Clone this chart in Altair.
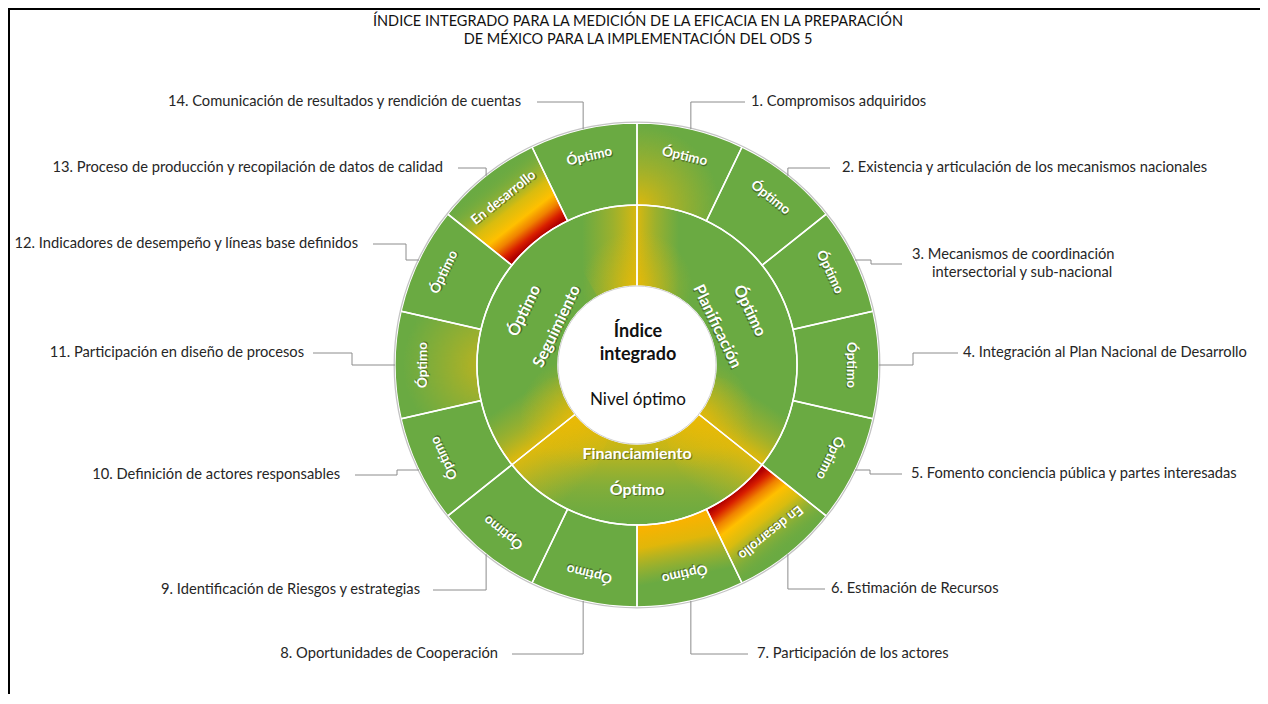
import math
import numpy as np
import pandas as pd
import altair as alt

# ---------------- data ----------------
title_lines = [
    "ÍNDICE INTEGRADO PARA LA MEDICIÓN DE LA EFICACIA EN LA PREPARACIÓN",
    "DE MÉXICO PARA LA IMPLEMENTACIÓN DEL ODS 5",
]
indicators = [
    "1. Compromisos adquiridos",
    "2. Existencia y articulación de los mecanismos nacionales",
    "3.  Mecanismos de coordinación\nintersectorial y sub-nacional",
    "4. Integración al Plan Nacional de Desarrollo",
    "5. Fomento conciencia pública y partes interesadas",
    "6. Estimación de Recursos",
    "7. Participación de los actores",
    "8. Oportunidades de Cooperación",
    "9. Identificación de Riesgos y estrategias",
    "10. Definición de actores responsables",
    "11. Participación en diseño de procesos",
    "12. Indicadores de desempeño y líneas base definidos",
    "13. Proceso de producción y recopilación de datos de calidad",
    "14. Comunicación de resultados y rendición de cuentas",
]
indicator_status = [
    "Óptimo", "Óptimo", "Óptimo", "Óptimo", "Óptimo", "En desarrollo", "Óptimo",
    "Óptimo", "Óptimo", "Óptimo", "Óptimo", "Óptimo", "En desarrollo", "Óptimo",
]
pillars = ["Planificación", "Financiamiento", "Seguimiento"]
pillar_size = [5, 4, 5]
pillar_status = ["Óptimo", "Óptimo", "Óptimo"]
center_lines = ["Índice", "integrado", "Nivel óptimo"]

# ---------------- layout (page pixels) ----------------
label_y = [102, 168, 264, 353, 474, 589, 654, 654, 590, 475, 353, 244, 168, 102]
label_elbow_x = [None, None, 871, 913, 870, None, None, None, None, 397, 352, 406, None, None]
label_line_end_x = [745, 830, 902, 958, 902, 825, 748, 512, 433, 355, 313, 373, 458, 537]
label_text_x = [751, 842, 912, 963, 911, 831, 757, 498, 420, 340, 304, 358, 443, 521]
label_indent = [0, 0, 20, 0, 0, 0, 0, 0, 0, 0, 0, 0, 0, 0]
center_text_y = [332, 355, 400]
title_y = [22, 40]

W, H = 1252, 686
OX, OY = 8, 8
CX, CY = 637, 365
R_IN, R_MID, R_OUT = 79, 160, 242
R_TXT_OUT = 214
R_PNAME, R_PSTAT = 89, 125
FONT = "Lato"
GREEN = "#6AAA42"
STEP = 360.0 / len(indicators)

xs = alt.Scale(domain=[OX - CX, OX + W - CX], nice=False, zero=False)
ys = alt.Scale(domain=[CY - (OY + H), CY - OY], nice=False, zero=False)
ts = alt.Scale(domain=[0, 360], range=[0, 2 * math.pi])


def X(f="x"):
    return alt.X(f + ":Q", scale=xs, axis=None)


def Y(f="y"):
    return alt.Y(f + ":Q", scale=ys, axis=None)


def arcs(df, r0, r1, **mk):
    df = df.copy()
    df["cx"] = 0.0
    df["cy"] = 0.0
    return alt.Chart(df).mark_arc(radius=r1, radius2=r0, **mk).encode(
        x=X("cx"), y=Y("cy"),
        theta=alt.Theta("t0:Q", scale=ts, stack=None),
        theta2="t1:Q",
    )


def sector(t0, t1):
    return pd.DataFrame({"t0": [float(t0)], "t1": [float(t1)]})


# geometry helpers for gradients (screen coords, y down)
def scr(theta, r):
    t = math.radians(theta)
    return r * math.sin(t), -r * math.cos(t)


def sector_bbox(t0, t1, r0, r1):
    tt = np.radians(np.linspace(t0, t1, 400))
    px = np.concatenate([r0 * np.sin(tt), r1 * np.sin(tt)])
    py = np.concatenate([-r0 * np.cos(tt), -r1 * np.cos(tt)])
    return px.min(), px.max(), py.min(), py.max()


def to_bb(p, bb):
    return (p[0] - bb[0]) / (bb[1] - bb[0]), (p[1] - bb[2]) / (bb[3] - bb[2])


def stops(lst):
    return [{"offset": o, "color": c} for o, c in lst]


def radial_fill(t0, t1, r0, r1, ct, cr, rad_px, st):
    bb = sector_bbox(t0, t1, r0, r1)
    cx, cy = to_bb(scr(ct, cr), bb)
    w, h = bb[1] - bb[0], bb[3] - bb[2]
    r = rad_px / math.sqrt(w * h)
    return {"gradient": "radial", "x1": cx, "y1": cy, "r1": 0,
            "x2": cx, "y2": cy, "r2": r, "stops": stops(st)}


def radial_dir_fill(t0, t1, r0, r1, st):
    bb = sector_bbox(t0, t1, r0, r1)
    tm = (t0 + t1) / 2
    p0 = to_bb(scr(tm, r0), bb)
    p1 = to_bb(scr(tm, r1), bb)
    return {"gradient": "linear", "x1": p0[0], "y1": p0[1],
            "x2": p1[0], "y2": p1[1], "stops": stops(st)}


def edge_fill(t0, t1, r0, r1, tb, width_px, st):
    bb = sector_bbox(t0, t1, r0, r1)
    side = 1 if (t0 + t1) / 2 > tb else -1
    p = scr(tb, (r0 + r1) / 2)
    d = (side * math.cos(math.radians(tb)), side * math.sin(math.radians(tb)))
    q = (p[0] + d[0] * width_px, p[1] + d[1] * width_px)
    a, b = to_bb(p, bb), to_bb(q, bb)
    return {"gradient": "linear", "x1": a[0], "y1": a[1], "x2": b[0], "y2": b[1], "stops": stops(st)}


def vertical_fill(st):
    return {"gradient": "linear", "x1": 0.5, "y1": 0, "x2": 0.5, "y2": 1, "stops": stops(st)}


# ---------------- tables ----------------
outer_df = pd.DataFrame({
    "t0": [i * STEP for i in range(len(indicators))],
    "t1": [(i + 1) * STEP for i in range(len(indicators))],
    "status": indicator_status,
})
cum = np.concatenate([[0], np.cumsum(pillar_size)]) * STEP
mid_df = pd.DataFrame({"t0": cum[:-1], "t1": cum[1:], "name": pillars, "status": pillar_status})

layers = []
layers.append(arcs(outer_df, R_MID, R_OUT, fill=GREEN, stroke=None))
layers.append(arcs(mid_df, R_IN, R_MID, fill=GREEN, stroke=None))

# ---- middle-ring shading near the pillar boundaries ----
edge_st = [(0, "rgba(232,186,8,0.88)"), (0.45, "rgba(214,184,20,0.45)"), (1, "rgba(200,182,30,0)")]
SPAN = 30
b1, b2 = cum[1], cum[2]
edge_specs = [
    (360 - SPAN, 360, 360, 55),
    (0, SPAN, 0, 42),
    (b1 - SPAN, b1, b1, 50),
    (b1, b1 + SPAN, b1, 60),
    (b2 - SPAN, b2, b2, 60),
    (b2, b2 + SPAN, b2, 50),
]
for t0, t1, tb, wpx in edge_specs:
    layers.append(arcs(sector(t0, t1), R_IN, R_MID,
                       fill=edge_fill(t0, t1, R_IN, R_MID, tb, wpx, edge_st), stroke=None))
# Financiamiento: yellow toward the centre
layers.append(arcs(sector(b1, b2), R_IN, R_MID,
                   fill=vertical_fill([(0, "rgba(236,186,4,0.9)"), (0.3, "rgba(226,186,10,0.75)"),
                                       (0.65, "rgba(190,182,35,0.3)"), (1, "rgba(150,175,50,0)")]),
                   stroke=None))
# stronger yellow at the inner corners
for b in [0.0, b1, b2]:
    g = radial_fill(0, 360, R_IN, R_MID, b, R_IN, 55,
                    [(0, "rgba(236,186,4,0.6)"), (1, "rgba(220,184,15,0)")])
    layers.append(arcs(sector(0, 360), R_IN, R_MID, fill=g, stroke=None))

# ---- outer-ring shading per indicator ----
red_stops = [(0, "rgba(176,0,0,1)"), (0.08, "rgba(216,30,0,1)"), (0.2, "rgba(240,130,0,1)"),
             (0.32, "rgba(255,192,0,1)"), (0.5, "rgba(228,190,10,0.9)"),
             (0.75, "rgba(165,180,45,0.35)"), (0.95, "rgba(106,170,66,0)")]
special = {
    0: radial_fill(0, STEP, R_MID, R_OUT, 0, R_MID, 80,
                   [(0, "rgba(236,186,5,0.9)"), (0.5, "rgba(215,183,20,0.45)"), (1, "rgba(200,182,30,0)")]),
    5: radial_dir_fill(5 * STEP, 6 * STEP, R_MID, R_OUT, red_stops),
    6: radial_dir_fill(6 * STEP, 7 * STEP, R_MID, R_OUT,
                       [(0, "rgba(250,178,0,1)"), (0.25, "rgba(245,185,0,0.85)"), (0.7, "rgba(200,185,30,0)")]),
    10: radial_fill(10 * STEP, 11 * STEP, R_MID, R_OUT, 270, R_MID, 75,
                    [(0, "rgba(226,183,15,0.7)"), (1, "rgba(200,182,30,0)")]),
    12: radial_dir_fill(12 * STEP, 13 * STEP, R_MID, R_OUT, red_stops),
}
for i, g in special.items():
    layers.append(arcs(sector(i * STEP, (i + 1) * STEP), R_MID, R_OUT, fill=g, stroke=None))

# separators and outlines
layers.append(arcs(outer_df, R_MID, R_OUT, filled=False, stroke="white", strokeWidth=1.5))
layers.append(arcs(mid_df, R_IN, R_MID, filled=False, stroke="white", strokeWidth=1.5))
layers.append(arcs(sector(0, 360), 0, R_OUT + 0.8, filled=False, stroke="#C4C4C4", strokeWidth=1.3))
layers.append(arcs(sector(0, 360), 0, R_IN, fill="white", stroke="#D0D0D0", strokeWidth=1))

# ---------------- ring texts ----------------
tm_out = (outer_df["t0"] + outer_df["t1"]) / 2
otxt = pd.DataFrame({
    "x": R_TXT_OUT * np.sin(np.radians(tm_out)),
    "y": R_TXT_OUT * np.cos(np.radians(tm_out)),
    "ang": tm_out,
    "txt": outer_df["status"],
})
enc_t = dict(x=X(), y=Y(), angle=alt.Angle("ang:Q", scale=None), text="txt:N")
layers.append(alt.Chart(otxt).mark_text(font=FONT, fontSize=13.5, fontWeight="bold", color="#1f2a10",
                                        opacity=0.45, dx=1, dy=1.3).encode(**enc_t))
layers.append(alt.Chart(otxt).mark_text(font=FONT, fontSize=13.5, fontWeight="bold",
                                        color="white").encode(**enc_t))

rows = []
for _, r in mid_df.iterrows():
    tm = (r["t0"] + r["t1"]) / 2
    ang = tm - 180 if 90 < tm < 270 else tm
    for rad, txt in [(R_PNAME, r["name"]), (R_PSTAT, r["status"])]:
        rows.append({"x": rad * math.sin(math.radians(tm)), "y": rad * math.cos(math.radians(tm)),
                     "ang": ang % 360, "txt": txt})
mtxt = pd.DataFrame(rows)
layers.append(alt.Chart(mtxt).mark_text(font=FONT, fontSize=16, fontWeight="bold", color="#1f2a10",
                                        opacity=0.45, dx=1, dy=1.4).encode(**enc_t))
layers.append(alt.Chart(mtxt).mark_text(font=FONT, fontSize=16, fontWeight="bold",
                                        color="white").encode(**enc_t))

ctxt = pd.DataFrame({"x": [638 - CX] * 3, "y": [CY - v for v in center_text_y],
                     "txt": center_lines, "w": ["bold", "bold", "normal"]})
layers.append(alt.Chart(ctxt[ctxt.w == "bold"]).mark_text(font=FONT, fontSize=18, fontWeight="bold",
                                                          color="#111").encode(x=X(), y=Y(), text="txt:N"))
layers.append(alt.Chart(ctxt[ctxt.w == "normal"]).mark_text(font=FONT, fontSize=17,
                                                            color="#111").encode(x=X(), y=Y(), text="txt:N"))

# ---------------- leader lines and labels ----------------
lrows, trows = [], []
for k, name in enumerate(indicators):
    tm = (k + 0.5) * STEP
    ax = R_OUT * math.sin(math.radians(tm))
    ay = R_OUT * math.cos(math.radians(tm))
    ly = CY - label_y[k]
    ex = ax if label_elbow_x[k] is None else label_elbow_x[k] - CX
    pts = [(ax, ay), (ex, ay), (ex, ly), (label_line_end_x[k] - CX, ly)]
    for j, (px, py) in enumerate(pts):
        lrows.append({"x": px, "y": py, "id": k, "ord": j})
    parts = name.split("\n")
    n = len(parts)
    for j, p in enumerate(parts):
        trows.append({"x": label_text_x[k] - CX + (label_indent[k] if j > 0 else 0),
                      "y": CY - (label_y[k] + (j - (n - 1) / 2) * 18),
                      "txt": p, "side": "R" if k < 7 else "L"})
ldf = pd.DataFrame(lrows)
tdf = pd.DataFrame(trows)
layers.append(alt.Chart(ldf).mark_line(color="#8C8C8C", strokeWidth=1).encode(
    x=X(), y=Y(), detail="id:N", order="ord:Q"))
LFS = 14.7
layers.append(alt.Chart(tdf[tdf.side == "R"]).mark_text(font=FONT, fontSize=LFS, align="left",
                                                        color="#262626").encode(x=X(), y=Y(), text="txt:N"))
layers.append(alt.Chart(tdf[tdf.side == "L"]).mark_text(font=FONT, fontSize=LFS, align="right",
                                                        color="#262626").encode(x=X(), y=Y(), text="txt:N"))

# ---------------- title and frame ----------------
ttl = pd.DataFrame({"x": [638 - CX] * 2, "y": [CY - v for v in title_y], "txt": title_lines})
layers.append(alt.Chart(ttl).mark_text(font=FONT, fontSize=14.5, color="#111").encode(
    x=X(), y=Y(), text="txt:N"))
layers.append(alt.Chart(pd.DataFrame({"a": [0]})).mark_rule(color="black", strokeWidth=2).encode(
    x=alt.value(0), x2=alt.value(W), y=alt.value(1)))
layers.append(alt.Chart(pd.DataFrame({"a": [0]})).mark_rule(color="black", strokeWidth=2).encode(
    x=alt.value(1), y=alt.value(0), y2=alt.value(H)))

chart = alt.layer(*layers).properties(
    width=W, height=H, padding=0, autosize="none", background="white"
).configure_view(stroke=None)

chart.save("out.html", embed_options={"renderer": "svg", "actions": False})
